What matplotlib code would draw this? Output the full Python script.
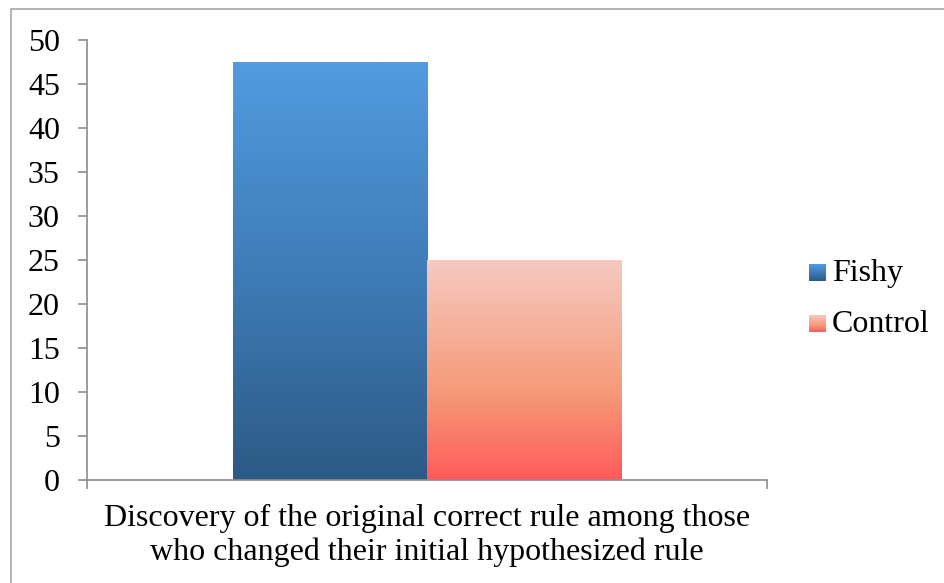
import numpy as np
import matplotlib
matplotlib.use("Agg")
import matplotlib.pyplot as plt
from matplotlib.colors import LinearSegmentedColormap
from matplotlib.patches import Rectangle

plt.rcParams['font.family'] = ['Liberation Serif', 'DejaVu Serif']

#%% data
category = "Discovery of the original correct rule among those\nwho changed their initial hypothesized rule"
series = ["Fishy", "Control"]
values = [47.4, 25]
yticks = list(range(0, 55, 5))

# gradient fills, bottom -> top
fishy_cmap = LinearSegmentedColormap.from_list("fishy", ["#2d5a85", "#3f7cb8", "#529cdf"])
control_cmap = LinearSegmentedColormap.from_list(
    "control", [(0, "#ff5b5b"), (0.4, "#f59a78"), (1, "#f6c9c1")])
cmaps = [fishy_cmap, control_cmap]

W, H = 945, 583
FS = 23
fig = plt.figure(figsize=(W / 100, H / 100), dpi=100)

# outer chart border
fig.patches.append(Rectangle((11 / W, -0.1), 1.2, 1 - 9 / H + 0.1, transform=fig.transFigure,
                             fill=False, edgecolor="#a6a6a6", linewidth=1.2))

ax = fig.add_axes([87 / W, (H - 480) / H, 680 / W, 440 / H])

bar_w = 0.286
offsets = [-bar_w / 2, bar_w / 2]
grad = np.linspace(0, 1, 256).reshape(-1, 1)
for off, val, cmap in zip(offsets, values, cmaps):
    bars = ax.bar(off, val, width=bar_w, color="none", edgecolor="none")
    x0 = bars[0].get_x()
    ax.imshow(grad, cmap=cmap, origin="lower", aspect="auto",
              extent=[x0, x0 + bar_w, 0, val], zorder=2)
ax.set_xlim(-0.5, 0.5)
ax.set_ylim(0, 50)

for s in ["top", "right"]:
    ax.spines[s].set_visible(False)
for s in ["left", "bottom"]:
    ax.spines[s].set_color("#8c8c8c")
    ax.spines[s].set_linewidth(1.2)

ax.set_yticks(yticks)
ax.tick_params(axis="y", length=6.5, width=1.2, color="#8c8c8c", labelsize=FS, pad=13)
ax.set_xticks([0])
ax.set_xticklabels([category], fontsize=FS, linespacing=1.22)
ax.tick_params(axis="x", which="major", length=0, pad=17)
ax.set_xticks([-0.5, 0.5], minor=True)
ax.tick_params(axis="x", which="minor", length=6.5, width=1.2, color="#8c8c8c")

# legend with gradient swatches
for i, (name, cmap) in enumerate(zip(series, cmaps)):
    top = 264 + 51 * i
    sw = fig.add_axes([809 / W, (H - top - 17) / H, 17 / W, 17 / H])
    sw.imshow(grad, cmap=cmap, origin="lower", aspect="auto")
    sw.axis("off")
    fig.text(832 / W, (H - top - 10) / H, name, fontsize=FS, va="center", ha="left")

fig.savefig("out.png", dpi=100)
